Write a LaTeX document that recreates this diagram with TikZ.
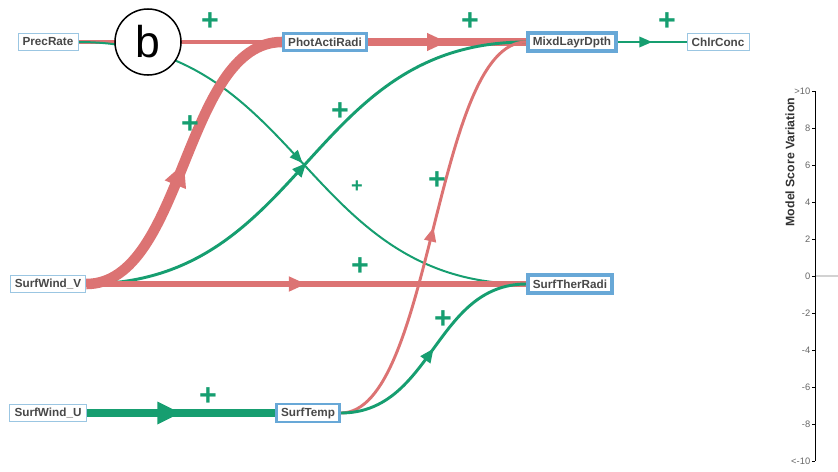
\documentclass[tikz,border=0pt]{standalone}
\usepackage{fontspec}
\setmainfont{Liberation Sans}
\usepackage{tikz}
\usetikzlibrary{arrows.meta, decorations.markings, backgrounds}

\definecolor{posred}{RGB}{220,115,115}
\definecolor{posgreen}{RGB}{22,158,112}
\definecolor{boxblue}{RGB}{104,168,215}
\definecolor{boxlight}{RGB}{155,198,226}
\definecolor{labelgray}{RGB}{72,72,72}

\begin{document}
\begin{tikzpicture}[x=0.03cm, y=-0.03cm,
  var/.style={draw=boxlight, line width=0.7pt, fill=white, text=labelgray,
    font=\fontsize{10}{12}\selectfont\bfseries, inner xsep=4pt, inner ysep=0pt, minimum height=15pt},
  hub/.style={var, draw=boxblue, line width=#1},
  midarrow/.style 2 args={postaction={decorate}, decoration={markings,
    mark=at position 0.5 with {\arrow{Triangle[length=#1, width=#2]}}}},
  plus/.style={text=posgreen, font=\fontsize{26}{26}\selectfont\bfseries, inner sep=0pt},
  tick/.style={text=black!60, font=\fontsize{8}{9}\selectfont, inner sep=1.2pt}]
  \useasboundingbox (0,0) rectangle (838,471);

  % Variables
  \node[var] (PrecRate) at (48,42) {PrecRate};
  \node[hub=2.6pt] (PhotActiRadi) at (325,42) {PhotActiRadi};
  \node[hub=3.4pt] (MixdLayrDpth) at (572,42) {MixdLayrDpth};
  \node[var] (ChlrConc) at (718,42) {ChlrConc};
  \node[var] (SurfWindV) at (48,284) {SurfWind\_V};
  \node[hub=3pt] (SurfTherRadi) at (570,284) {SurfTherRadi};
  \node[var] (SurfWindU) at (48,413) {SurfWind\_U};
  \node[hub=2pt] (SurfTemp) at (308,413) {SurfTemp};

  % Links
  \begin{scope}[on background layer]
    \draw[posred, line width=4.2pt, midarrow={14pt}{12pt}] (PrecRate.east) -- (PhotActiRadi.west);
    \draw[posgreen, line width=1.7pt, midarrow={11pt}{9pt}] (PrecRate.east) .. controls +(224,0) and +(-224,0) .. (SurfTherRadi.west);
    \draw[posred, line width=6pt, midarrow={17pt}{14pt}] (PhotActiRadi.east) -- (MixdLayrDpth.west);
    \draw[posgreen, line width=1.7pt, midarrow={11pt}{9pt}] (MixdLayrDpth.east) -- (ChlrConc.west);
    \draw[posred, line width=9pt, midarrow={20pt}{18pt}] (SurfWindV.east) .. controls +(98,0) and +(-98,0) .. (PhotActiRadi.west);
    \draw[posgreen, line width=2.5pt, midarrow={12pt}{10pt}] (SurfWindV.east) .. controls +(220,0) and +(-220,0) .. (MixdLayrDpth.west);
    \draw[posred, line width=5pt, midarrow={15pt}{12pt}] (SurfWindV.east) -- (SurfTherRadi.west);
    \draw[posgreen, line width=7.5pt, midarrow={20pt}{18pt}] (SurfWindU.east) -- (SurfTemp.west);
    \draw[posred, line width=2.5pt, midarrow={12pt}{10pt}] (SurfTemp.east) .. controls +(92,0) and +(-92,0) .. (MixdLayrDpth.west);
    \draw[posgreen, line width=2.5pt, midarrow={12pt}{10pt}] (SurfTemp.east) .. controls +(92,0) and +(-92,0) .. (SurfTherRadi.west);
  \end{scope}

  % Signs
  \node[plus] (plusA) at (210,22) {+};
  \node[plus] (plusB) at (470,22) {+};
  \node[plus] (plusC) at (667,22) {+};
  \node[plus] (plusD) at (190,125) {+};
  \node[plus] (plusE) at (340,112) {+};
  \node[plus, font=\fontsize{17}{17}\selectfont\bfseries] (plusF) at (357,187) {+};
  \node[plus] (plusG) at (437,181) {+};
  \node[plus] (plusH) at (360,267) {+};
  \node[plus] (plusI) at (443,320) {+};
  \node[plus] (plusJ) at (208,397) {+};

  % Panel tag
  \node[draw, circle, line width=1.3pt, fill=white, inner sep=0pt,
    minimum size=1.98cm, font=\fontsize{38}{38}\selectfont] (tag) at (148,42) {b};

  % Score scale
  \draw[gray!35, line width=1pt] (815,276) -- (838,276);
  \draw[line width=0.8pt] (815,91) -- (815,461);
  \foreach \lab [count=\k from 0] in {>10,8,6,4,2,0,-2,-4,-6,-8,<-10}
    \draw[line width=0.6pt] (815,91+37*\k) -- ++(-3,0) node[left, tick] (tick\k) {\lab};
  \node[rotate=90, text=black!80, font=\fontsize{10.5}{12}\selectfont\bfseries] (scaletitle) at (790,162) {Model Score Variation};
\end{tikzpicture}
\end{document}
